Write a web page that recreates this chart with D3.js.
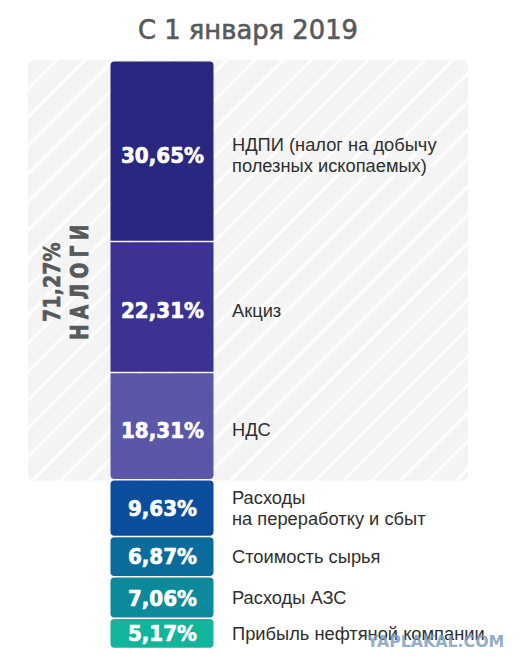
<!DOCTYPE html>
<html><head><meta charset="utf-8">
<script src="https://d3js.org/d3.v7.min.js"></script>
<style>html,body{margin:0;padding:0;background:#fff}svg{display:block}</style>
</head><body><svg id="c" width="530" height="671"></svg>
<script>
const title = "С 1 января 2019";
const values = [30.65, 22.31, 18.31, 9.63, 6.87, 7.06, 5.17];
const valueLabels = ["30,65%", "22,31%", "18,31%", "9,63%", "6,87%", "7,06%", "5,17%"];
const labels = [
  ["НДПИ (налог на добычу", "полезных ископаемых)"],
  ["Акциз"],
  ["НДС"],
  ["Расходы", "на переработку и сбыт"],
  ["Стоимость сырья"],
  ["Расходы АЗС"],
  ["Прибыль нефтяной компании"]
];
const colors = ["#29277f", "#3b3292", "#5a56a8", "#0b4d9d", "#0a6c9d", "#0c8a9b", "#12b59c"];
const taxCount = 3;
const taxTotal = "71,27%";
const taxWord = "НАЛОГИ";
const watermark = "YAPLAKAL.COM";

const svg = d3.select("#c");
const y = d3.scaleLinear().domain([0, 100]).range([61.5, 648.5]);
const x = d3.scaleBand().domain(["share"]).range([110.5, 213.5]);
const stack = d3.stack().keys(values.map((_, i) => i))([values]);
const segs = stack.map((s, i) => ({ i, y0: s[0][0], y1: s[0][1] }));
const taxEnd = segs[taxCount - 1].y1;

const defs = svg.append("defs");
const pat = defs.append("pattern").attr("id", "hatch").attr("patternUnits", "userSpaceOnUse")
  .attr("width", 20).attr("height", 20).attr("patternTransform", "rotate(-45)");
pat.append("rect").attr("width", 20).attr("height", 20).attr("fill", "#f4f4f4");
pat.append("rect").attr("y", 1.25).attr("width", 20).attr("height", 3).attr("fill", "#fff");

svg.append("rect").attr("x", 28).attr("y", 60).attr("width", 440)
  .attr("height", y(taxEnd) + 1 - 60).attr("rx", 6).attr("fill", "url(#hatch)");

svg.append("text").attr("x", 248).attr("y", 39).attr("text-anchor", "middle")
  .attr("font-family", "'DejaVu Sans',sans-serif").attr("font-size", 25.8)
  .attr("stroke", "#58595b").attr("stroke-width", 0.6)
  .attr("fill", "#58595b").text(title);

function segPath(d) {
  const x0 = x("share"), x1 = x0 + x.bandwidth(), t = y(d.y0) + (d.i ? 0.75 : 0), b = y(d.y1) - 0.75;
  const topR = d.i === 0 || d.i >= taxCount ? 4 : 0;
  const botR = d.i >= taxCount - 1 ? 4 : 0;
  return `M${x0 + topR},${t}H${x1 - topR}Q${x1},${t} ${x1},${t + topR}V${b - botR}Q${x1},${b} ${x1 - botR},${b}H${x0 + botR}Q${x0},${b} ${x0},${b - botR}V${t + topR}Q${x0},${t} ${x0 + topR},${t}Z`;
}
svg.append("g").selectAll("path").data(segs).join("path")
  .attr("d", segPath).attr("fill", d => colors[d.i]);

const nudge = d => d.i < taxCount ? 4 : (d.i >= 5 ? 1 : 0);
svg.append("g").selectAll("text").data(segs).join("text")
  .attr("transform", d => `translate(${x("share") + x.bandwidth() / 2 + 0.5},${(y(d.y0) + y(d.y1)) / 2 + 7.5 + nudge(d) - (d.i === 6 ? 1 : 0)}) scale(0.95,1)`)
  .attr("text-anchor", "middle").attr("fill", "#fff")
  .attr("font-family", "'DejaVu Sans',sans-serif").attr("font-weight", 700).attr("font-size", 21)
  .attr("stroke", "#fff").attr("stroke-width", 0.7)
  .text(d => valueLabels[d.i]);

const lab = svg.append("g").attr("font-family", "'Liberation Sans',Arial,sans-serif")
  .attr("font-size", 18.3).attr("fill", "#2f2f2f");
segs.forEach(d => {
  const lines = labels[d.i];
  const c = (y(d.y0) + y(d.y1)) / 2 + 6 + nudge(d);
  lines.forEach((t, k) => {
    lab.append("text").attr("x", 232).attr("y", c + (k - (lines.length - 1) / 2) * 21).text(t);
  });
});

const mid = (y(0) + y(taxEnd)) / 2;
svg.append("text").attr("transform", `translate(60,${mid + 11.5}) rotate(-90) scale(0.83,1)`).attr("text-anchor", "middle")
  .attr("font-family", "'DejaVu Sans',sans-serif").attr("font-weight", 700).attr("font-size", 23)
  .attr("stroke", "#58595b").attr("stroke-width", 0.6)
  .attr("fill", "#58595b").text(taxTotal);
svg.append("text").attr("transform", `translate(88,${mid + 9}) rotate(-90) scale(0.75,1)`).attr("text-anchor", "middle")
  .attr("font-family", "'DejaVu Sans',sans-serif").attr("font-weight", 700).attr("font-size", 25)
  .attr("letter-spacing", 7).attr("stroke", "#58595b").attr("stroke-width", 0.8)
  .attr("fill", "#58595b").text(taxWord);

svg.append("text").attr("x", 367).attr("y", 647)
  .attr("font-family", "'DejaVu Sans',sans-serif").attr("font-weight", 700).attr("font-size", 15.8)
  .attr("fill", "#7f9fbd").attr("fill-opacity", 0.85).text(watermark);
</script></body></html>
